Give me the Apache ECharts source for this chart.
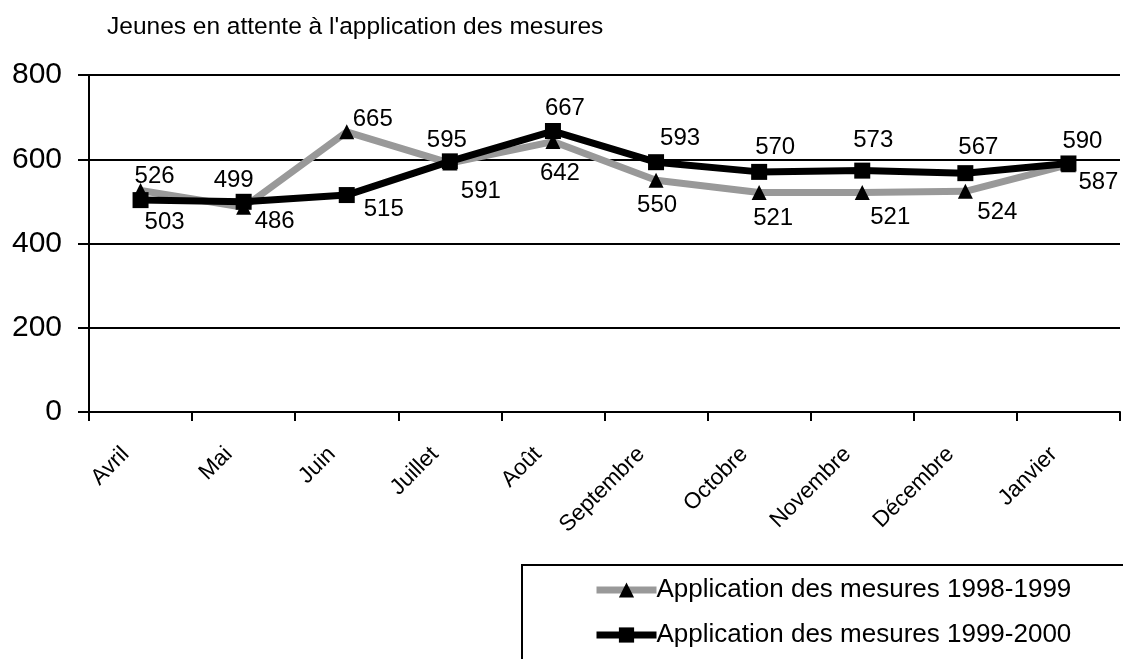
<!DOCTYPE html>
<html>
<head>
<meta charset="utf-8">
<script src="https://cdn.jsdelivr.net/npm/echarts@6/dist/echarts.min.js"></script>
<style>
html,body{margin:0;padding:0;background:#fff;}
#chart{width:1123px;height:659px;}
</style>
</head>
<body>
<div id="chart"></div>
<script>
const categories = ['Avril','Mai','Juin','Juillet','Août','Septembre','Octobre','Novembre','Décembre','Janvier'];
const series9899 = [526,486,665,591,642,550,521,521,524,587];
const series9900 = [503,499,515,595,667,593,570,573,567,590];
const yTicks = [0,200,400,600,800];
const seriesNames = ['Application des mesures 1998-1999','Application des mesures 1999-2000'];
const titleText = "Jeunes en attente à l'application des mesures";

// label offsets (pixels from the marker) — layout only
const labelOffsets9899 = [[14,-14],[31,14],[26,-12],[31,28],[7,32],[1,25],[14,26],[28,25],[32,21],[30,18]];
const labelOffsets9900 = [[24,22],[-10,-21],[37,14],[-3,-21],[12,-23],[24,-24],[16,-25],[11,-30],[13,-26],[14,-22]];

const FONT = "'Liberation Sans', Arial, sans-serif";

function withLabels(values, offsets){
  return values.map((v,i)=>({value:v, label:{offset:offsets[i]}}));
}

const chart = echarts.init(document.getElementById('chart'), null, {renderer:'canvas'});
const labelBase = {show:true, position:'inside', align:'center', verticalAlign:'middle',
  color:'#000', fontSize:24, fontFamily:FONT};

chart.setOption({
  animation:false,
  backgroundColor:'#fff',
  title:{text:titleText, left:102, top:10,
    textStyle:{fontSize:24.5, fontWeight:'normal', color:'#000', fontFamily:FONT}},
  grid:{left:89, right:3, top:75, bottom:247, containLabel:false},
  xAxis:{type:'category', data:categories, boundaryGap:true,
    axisLine:{lineStyle:{color:'#000', width:2}},
    axisTick:{show:true, length:9, lineStyle:{color:'#000', width:2}, alignWithLabel:false},
    axisLabel:{rotate:45, margin:24, padding:[0,21,0,0], fontSize:22.5, color:'#000', fontFamily:FONT, interval:0},
    splitLine:{show:false}},
  yAxis:{type:'value', min:yTicks[0], max:yTicks[yTicks.length-1], interval:yTicks[1]-yTicks[0],
    axisLine:{show:true, lineStyle:{color:'#000', width:2}},
    axisTick:{show:true, length:11, lineStyle:{color:'#000', width:2}},
    axisLabel:{fontSize:30, color:'#000', fontFamily:FONT, margin:27},
    splitLine:{show:true, lineStyle:{color:'#000', width:2}}},
  legend:{orient:'vertical', left:588, top:572, itemWidth:60, itemHeight:19, itemGap:19,
    textStyle:{fontSize:26, color:'#000', fontFamily:FONT, padding:[0,0,0,-5]},
    lineStyle:{width:7},
    data:seriesNames},
  graphic:[{type:'rect', shape:{x:522, y:565, width:620, height:120},
    style:{fill:'none', stroke:'#000', lineWidth:2}, z:100}],
  series:[
    {name:seriesNames[0], type:'line', data:withLabels(series9899, labelOffsets9899),
      symbol:'triangle', symbolSize:[15,15], showAllSymbol:true,
      lineStyle:{color:'#999999', width:7}, itemStyle:{color:'#000'},
      label:labelBase, z:2},
    {name:seriesNames[1], type:'line', data:withLabels(series9900, labelOffsets9900),
      symbol:'rect', symbolSize:16, showAllSymbol:true,
      lineStyle:{color:'#000', width:7}, itemStyle:{color:'#000'},
      label:labelBase, z:3}
  ]
});
</script>
</body>
</html>
